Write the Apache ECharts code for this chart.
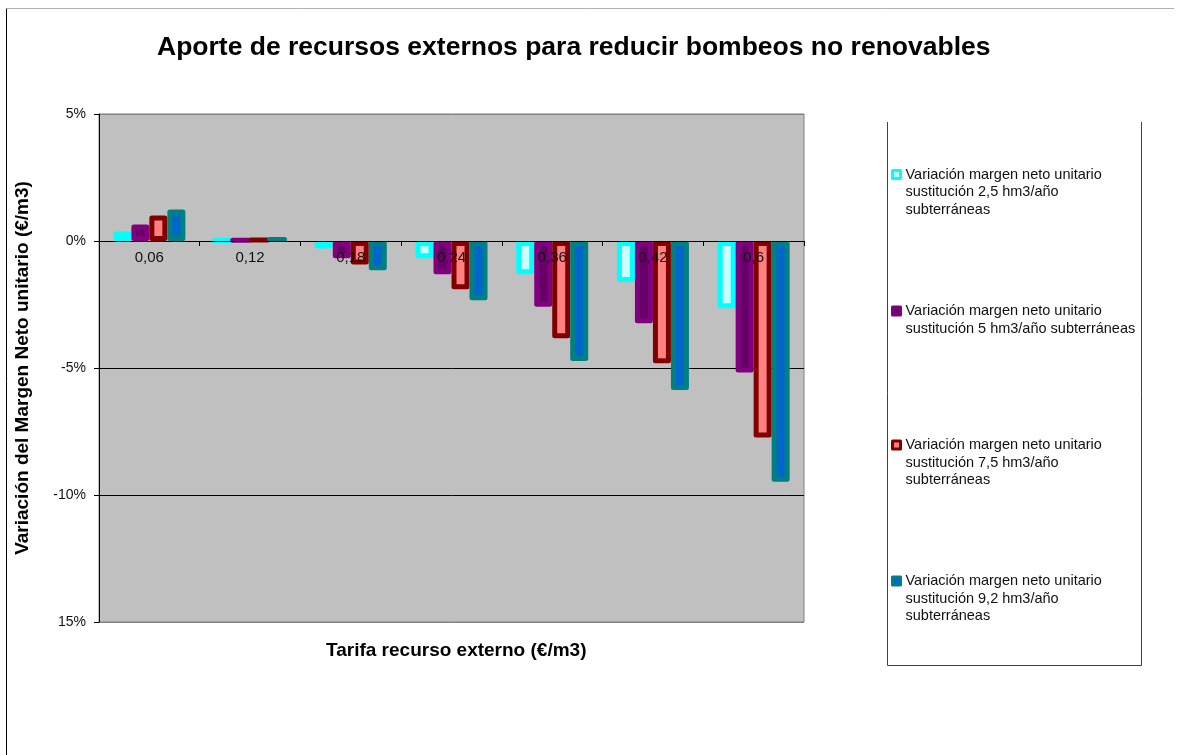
<!DOCTYPE html>
<html>
<head>
<meta charset="utf-8">
<script src="https://cdn.jsdelivr.net/npm/echarts@6/dist/echarts.min.js"></script>
<style>
html,body{margin:0;padding:0;background:#fff;}
#chart{width:1178px;height:755px;}
</style>
</head>
<body>
<div id="chart"></div>
<script>
// ---- data ----
var categories = ['0,06', '0,12', '0,18', '0,24', '0,36', '0,42', '0,6'];
var seriesNames = [
  'Variación margen neto unitario sustitución 2,5 hm3/año subterráneas',
  'Variación margen neto unitario sustitución 5 hm3/año subterráneas',
  'Variación margen neto unitario sustitución 7,5 hm3/año subterráneas',
  'Variación margen neto unitario sustitución 9,2 hm3/año subterráneas'
];
var legendLines = [
  ['Variación margen neto unitario', 'sustitución 2,5 hm3/año', 'subterráneas'],
  ['Variación margen neto unitario', 'sustitución 5 hm3/año subterráneas'],
  ['Variación margen neto unitario', 'sustitución 7,5 hm3/año', 'subterráneas'],
  ['Variación margen neto unitario', 'sustitución 9,2 hm3/año', 'subterráneas']
];
var sust25 = [0.37, 0.03, -0.30, -0.68, -1.31, -1.61, -2.65];
var sust5  = [0.65, 0.05, -0.68, -1.31, -2.59, -3.24, -5.18];
var sust75 = [1.00, 0.08, -0.93, -1.90, -3.83, -4.81, -7.74];
var sust92 = [1.24, 0.12, -1.15, -2.33, -4.72, -5.87, -9.48];
var yTickValues = [5, 0, -5, -10, -15];
var yTickLabels = ['5%', '0%', '-5%', '-10%', '15%'];

// ---- styling ----
var FONT = "'Liberation Sans', Arial, sans-serif";
var borderColors = ['#00FFFF', '#800080', '#800000', '#008080'];
var fillColors = ['#CCFFFF', '#660066', '#FF8080', '#0066CC'];
var seriesData = [sust25, sust5, sust75, sust92];
var legendFirstLineY = [174.5, 311, 445, 581];
var LH = 17.5;

var GRID_TOP = 114, GRID_H = 508, Y_MIN = -15, Y_MAX = 5;
// distance from grid bottom up to the zero line (axis moved there with offset)
var zeroOffset = GRID_H * (0 - Y_MIN) / (Y_MAX - Y_MIN);

var series = seriesData.map(function (d, i) {
  return {
    name: seriesNames[i],
    type: 'bar',
    data: d,
    barWidth: 18,
    barGap: '0%',
    itemStyle: {
      color: fillColors[i],
      borderColor: borderColors[i],
      borderWidth: 5,
      borderJoin: 'round'
    },
    emphasis: { disabled: true }
  };
});

var legends = legendLines.map(function (lines, i) {
  var n = lines.length;
  // prepend (n-1) empty lines so the first real line sits on the icon
  var txt = new Array(n).join('\n') + lines.join('\n');
  var totalLines = 2 * n - 1;
  return {
    show: true,
    left: 891,
    top: legendFirstLineY[i] - totalLines * LH / 2,
    padding: 0,
    orient: 'vertical',
    icon: 'rect',
    itemWidth: 8,
    itemHeight: 8,
    itemGap: 0,
    selectedMode: false,
    data: [{
      name: seriesNames[i],
      itemStyle: { color: fillColors[i], borderColor: borderColors[i], borderWidth: 3 }
    }],
    formatter: function () { return txt; },
    textStyle: {
      fontFamily: FONT,
      fontSize: 14.5,
      color: '#111',
      lineHeight: LH
    }
  };
});

var chart = echarts.init(document.getElementById('chart'), null, { renderer: 'canvas' });
chart.setOption({
  animation: false,
  backgroundColor: '#ffffff',
  title: [
    {
      text: 'Aporte de recursos externos para reducir bombeos no renovables',
      left: 157, top: 34, padding: 0,
      textStyle: { fontFamily: FONT, fontSize: 26.5, fontWeight: 'bold', color: '#000' }
    },
    {
      text: 'Tarifa recurso externo (€/m3)',
      left: 326, top: 641, padding: 0,
      textStyle: { fontFamily: FONT, fontSize: 19, fontWeight: 'bold', color: '#000' }
    }
  ],
  legend: legends,
  grid: {
    left: 99, top: GRID_TOP, width: 705, height: GRID_H,
    show: true, backgroundColor: '#C0C0C0', borderColor: '#808080', borderWidth: 1
  },
  xAxis: {
    type: 'category',
    data: categories,
    position: 'bottom',
    offset: -zeroOffset,
    z: 10,
    axisLine: { show: true, onZero: false, lineStyle: { color: '#000', width: 1 } },
    axisTick: { show: true, length: 5, lineStyle: { color: '#000' } },
    axisLabel: { fontFamily: FONT, fontSize: 15, color: '#111', margin: 9 },
    splitLine: { show: false }
  },
  yAxis: {
    type: 'value',
    min: Y_MIN, max: Y_MAX, interval: 5,
    name: 'Variación del Margen Neto unitario (€/m3)',
    nameLocation: 'middle',
    nameRotate: 90,
    nameGap: 67,
    nameTextStyle: { fontFamily: FONT, fontSize: 19, fontWeight: 'bold', color: '#000' },
    axisLine: { show: true, lineStyle: { color: '#000', width: 1 } },
    axisTick: { show: true, length: 5, lineStyle: { color: '#000' } },
    axisLabel: {
      fontFamily: FONT, fontSize: 14, color: '#111', margin: 13,
      formatter: function (v) {
        var k = yTickValues.indexOf(v);
        return k >= 0 ? yTickLabels[k] : '';
      }
    },
    splitLine: { show: true, lineStyle: { color: ['#808080', '#000', '#000', '#000', '#808080'], width: 1 } }
  },
  series: series,
  graphic: [
    {
      type: 'polyline', silent: true,
      shape: { points: [[6.5, 755], [6.5, 8.5]] },
      style: { stroke: '#000', lineWidth: 1, fill: null }
    },
    {
      type: 'polyline', silent: true,
      shape: { points: [[7, 8.5], [1174, 8.5]] },
      style: { stroke: '#b0b0b0', lineWidth: 1, fill: null }
    },
    {
      type: 'polyline', silent: true,
      shape: { points: [[887.5, 122], [887.5, 665.5], [1141.5, 665.5], [1141.5, 122]] },
      style: { stroke: '#404040', lineWidth: 1, fill: null }
    }
  ]
});
</script>
</body>
</html>
